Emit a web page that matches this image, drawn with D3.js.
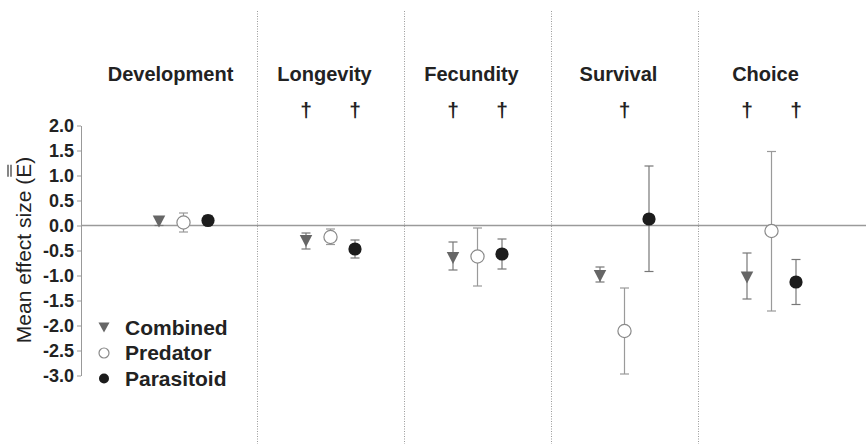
<!DOCTYPE html>
<html>
<head>
<meta charset="utf-8">
<script src="https://cdn.jsdelivr.net/npm/d3@7"></script>
<style>
  html, body { margin: 0; padding: 0; background: #fff; }
  svg { display: block; font-family: "Liberation Sans", Arial, sans-serif; }
</style>
</head>
<body>
<svg id="chart" width="866" height="444"></svg>
<script>
// Outcome categories (one panel each) and the three enemy groups
const categories = ["Development", "Longevity", "Fecundity", "Survival", "Choice"];
const groups = ["Combined", "Predator", "Parasitoid"];

// Mean effect sizes with lower / upper confidence limits
const combinedMean = [0.08, -0.31, -0.65, -1.01, -1.04];
const combinedLow  = [0.00, -0.47, -0.89, -1.13, -1.47];
const combinedHigh = [0.17, -0.15, -0.33, -0.83, -0.55];

const predatorMean = [0.06, -0.23, -0.62, -2.11, -0.11];
const predatorLow  = [-0.13, -0.38, -1.21, -2.97, -1.71];
const predatorHigh = [0.25, -0.07, -0.05, -1.25, 1.48];

const parasitoidMean = [0.10, -0.47, -0.57, 0.13, -1.13];
const parasitoidLow  = [0.02, -0.65, -0.87, -0.92, -1.58];
const parasitoidHigh = [0.20, -0.29, -0.27, 1.19, -0.68];

// Dagger flags per group and category
const combinedSig   = [false, true, true, false, true];
const predatorSig   = [false, false, false, true, false];
const parasitoidSig = [false, true, true, false, true];

// Y axis ticks
const yTickValues = [2.0, 1.5, 1.0, 0.5, 0.0, -0.5, -1.0, -1.5, -2.0, -2.5, -3.0];
const yTickLabels = ["2.0", "1.5", "1.0", "0.5", "0.0", "-0.5", "-1.0", "-1.5", "-2.0", "-2.5", "-3.0"];

const series = [
  { name: groups[0], mean: combinedMean, low: combinedLow, high: combinedHigh, sig: combinedSig },
  { name: groups[1], mean: predatorMean, low: predatorLow, high: predatorHigh, sig: predatorSig },
  { name: groups[2], mean: parasitoidMean, low: parasitoidLow, high: parasitoidHigh, sig: parasitoidSig }
];

const svg = d3.select("#chart");
const W = 866, H = 444;
const axisX = 81;

const y = d3.scaleLinear().domain([-3, 2]).range([375.5, 125.5]);
const x = d3.scaleBand().domain(categories).range([110, 845]).padding(0);
const off = d3.scalePoint().domain(groups).range([-24.5, 24.5]);

const style = {
  Combined:   { fill: "#666", stroke: "none", bar: "#777" },
  Predator:   { fill: "#fff", stroke: "#8a8a8a", bar: "#9a9a9a" },
  Parasitoid: { fill: "#1c1c1c", stroke: "none", bar: "#777" }
};

// Panel dividers
svg.append("g").selectAll("line")
  .data(categories.slice(1))
  .join("line")
  .attr("x1", d => Math.round(x(d)) + 0.5)
  .attr("x2", d => Math.round(x(d)) + 0.5)
  .attr("y1", 11).attr("y2", H)
  .attr("stroke", "#9a9a9a")
  .attr("stroke-width", 1)
  .attr("stroke-dasharray", "1,1.5");

// Zero reference line
svg.append("line")
  .attr("x1", axisX).attr("x2", W)
  .attr("y1", y(0)).attr("y2", y(0))
  .attr("stroke", "#9a9a9a").attr("stroke-width", 1.3);

// Y axis
const yAxis = d3.axisLeft(y)
  .tickValues(yTickValues)
  .tickFormat((d, i) => yTickLabels[i])
  .tickSize(4)
  .tickSizeOuter(0);
const gy = svg.append("g").attr("transform", `translate(${axisX},0)`).call(yAxis);
gy.select(".domain").attr("stroke", "#999");
gy.selectAll(".tick line").attr("stroke", "#999");
gy.selectAll(".tick text")
  .attr("x", -7)
  .attr("fill", "#222")
  .style("font-size", "18px")
  .style("font-weight", "bold")
  .style("font-family", "Liberation Sans, Arial, sans-serif");

// Y axis title with double-barred E
const yl = svg.append("g").attr("transform", "translate(30.5,250) rotate(-90)");
const ylText = yl.append("text")
  .attr("text-anchor", "middle")
  .attr("fill", "#222")
  .style("font-size", "21px")
  .text("Mean effect size (E)");
{
  const node = ylText.node();
  const full = node.getComputedTextLength();
  const str = "Mean effect size (E)";
  const iE = str.indexOf("(E") + 1;
  const start = -full / 2 + node.getSubStringLength(0, iE);
  const wE = node.getSubStringLength(iE, 1);
  [-19.5, -22.5].forEach(yy => {
    yl.append("line")
      .attr("x1", start + 1).attr("x2", start + wE - 1)
      .attr("y1", yy).attr("y2", yy)
      .attr("stroke", "#222").attr("stroke-width", 1.1);
  });
}

// Panel titles; the first one sits over the span between axis and divider
svg.append("g").selectAll("text")
  .data(categories)
  .join("text")
  .attr("x", (d, i) => x(d) + x.bandwidth() / 2 - 6 - (i === 0 ? 7 : 0))
  .attr("y", 81)
  .attr("text-anchor", "middle")
  .attr("fill", "#222")
  .style("font-size", "20px")
  .style("font-weight", "bold")
  .text(d => d);

// Marker shapes
const triPath = (w, h) => `M${-w / 2},${-h / 2}L${w / 2},${-h / 2}L0,${h / 2}Z`;

function drawMarker(sel, name, r, tw, th) {
  const s = style[name];
  if (name === "Combined") {
    sel.append("path").attr("d", triPath(tw, th)).attr("fill", s.fill);
  } else if (name === "Predator") {
    sel.append("circle").attr("r", r).attr("fill", s.fill)
      .attr("stroke", s.stroke).attr("stroke-width", 1.2);
  } else {
    sel.append("circle").attr("r", r).attr("fill", s.fill);
  }
}

// Error bars, markers and daggers
series.forEach(sr => {
  const g = svg.append("g");
  const cx = c => x(c) + x.bandwidth() / 2 + off(sr.name);
  const pts = categories.map((c, i) => ({ c, i }));

  const bars = g.selectAll(".eb").data(pts).join("g").attr("class", "eb")
    .attr("stroke", style[sr.name].bar).attr("stroke-width", 1.2);
  bars.append("line")
    .attr("x1", d => cx(d.c)).attr("x2", d => cx(d.c))
    .attr("y1", d => y(sr.high[d.i])).attr("y2", d => y(sr.low[d.i]));
  bars.append("line")
    .attr("x1", d => cx(d.c) - 4.5).attr("x2", d => cx(d.c) + 4.5)
    .attr("y1", d => y(sr.high[d.i])).attr("y2", d => y(sr.high[d.i]));
  bars.append("line")
    .attr("x1", d => cx(d.c) - 4.5).attr("x2", d => cx(d.c) + 4.5)
    .attr("y1", d => y(sr.low[d.i])).attr("y2", d => y(sr.low[d.i]));

  g.selectAll(".mk").data(pts).join("g").attr("class", "mk")
    .attr("transform", d => `translate(${cx(d.c)},${y(sr.mean[d.i])})`)
    .each(function () { drawMarker(d3.select(this), sr.name, 6.6, 12.5, 12); });

  g.selectAll(".dg").data(pts.filter(d => sr.sig[d.i])).join("text").attr("class", "dg")
    .attr("x", d => cx(d.c))
    .attr("y", 117)
    .attr("text-anchor", "middle")
    .attr("fill", "#222")
    .style("font-size", "21px")
    .style("font-weight", "bold")
    .text("\u2020");
});

// Legend
const legendY = d3.scalePoint().domain(groups).range([327.5, 378.5]);
const lg = svg.append("g");
groups.forEach(name => {
  const row = lg.append("g").attr("transform", `translate(104,${legendY(name)})`);
  drawMarker(row, name, 5, 11, 10);
  row.append("text")
    .attr("x", 21).attr("dy", "0.35em")
    .attr("fill", "#222")
    .style("font-size", "21px")
    .style("font-weight", "bold")
    .text(name);
});
</script>
</body>
</html>
